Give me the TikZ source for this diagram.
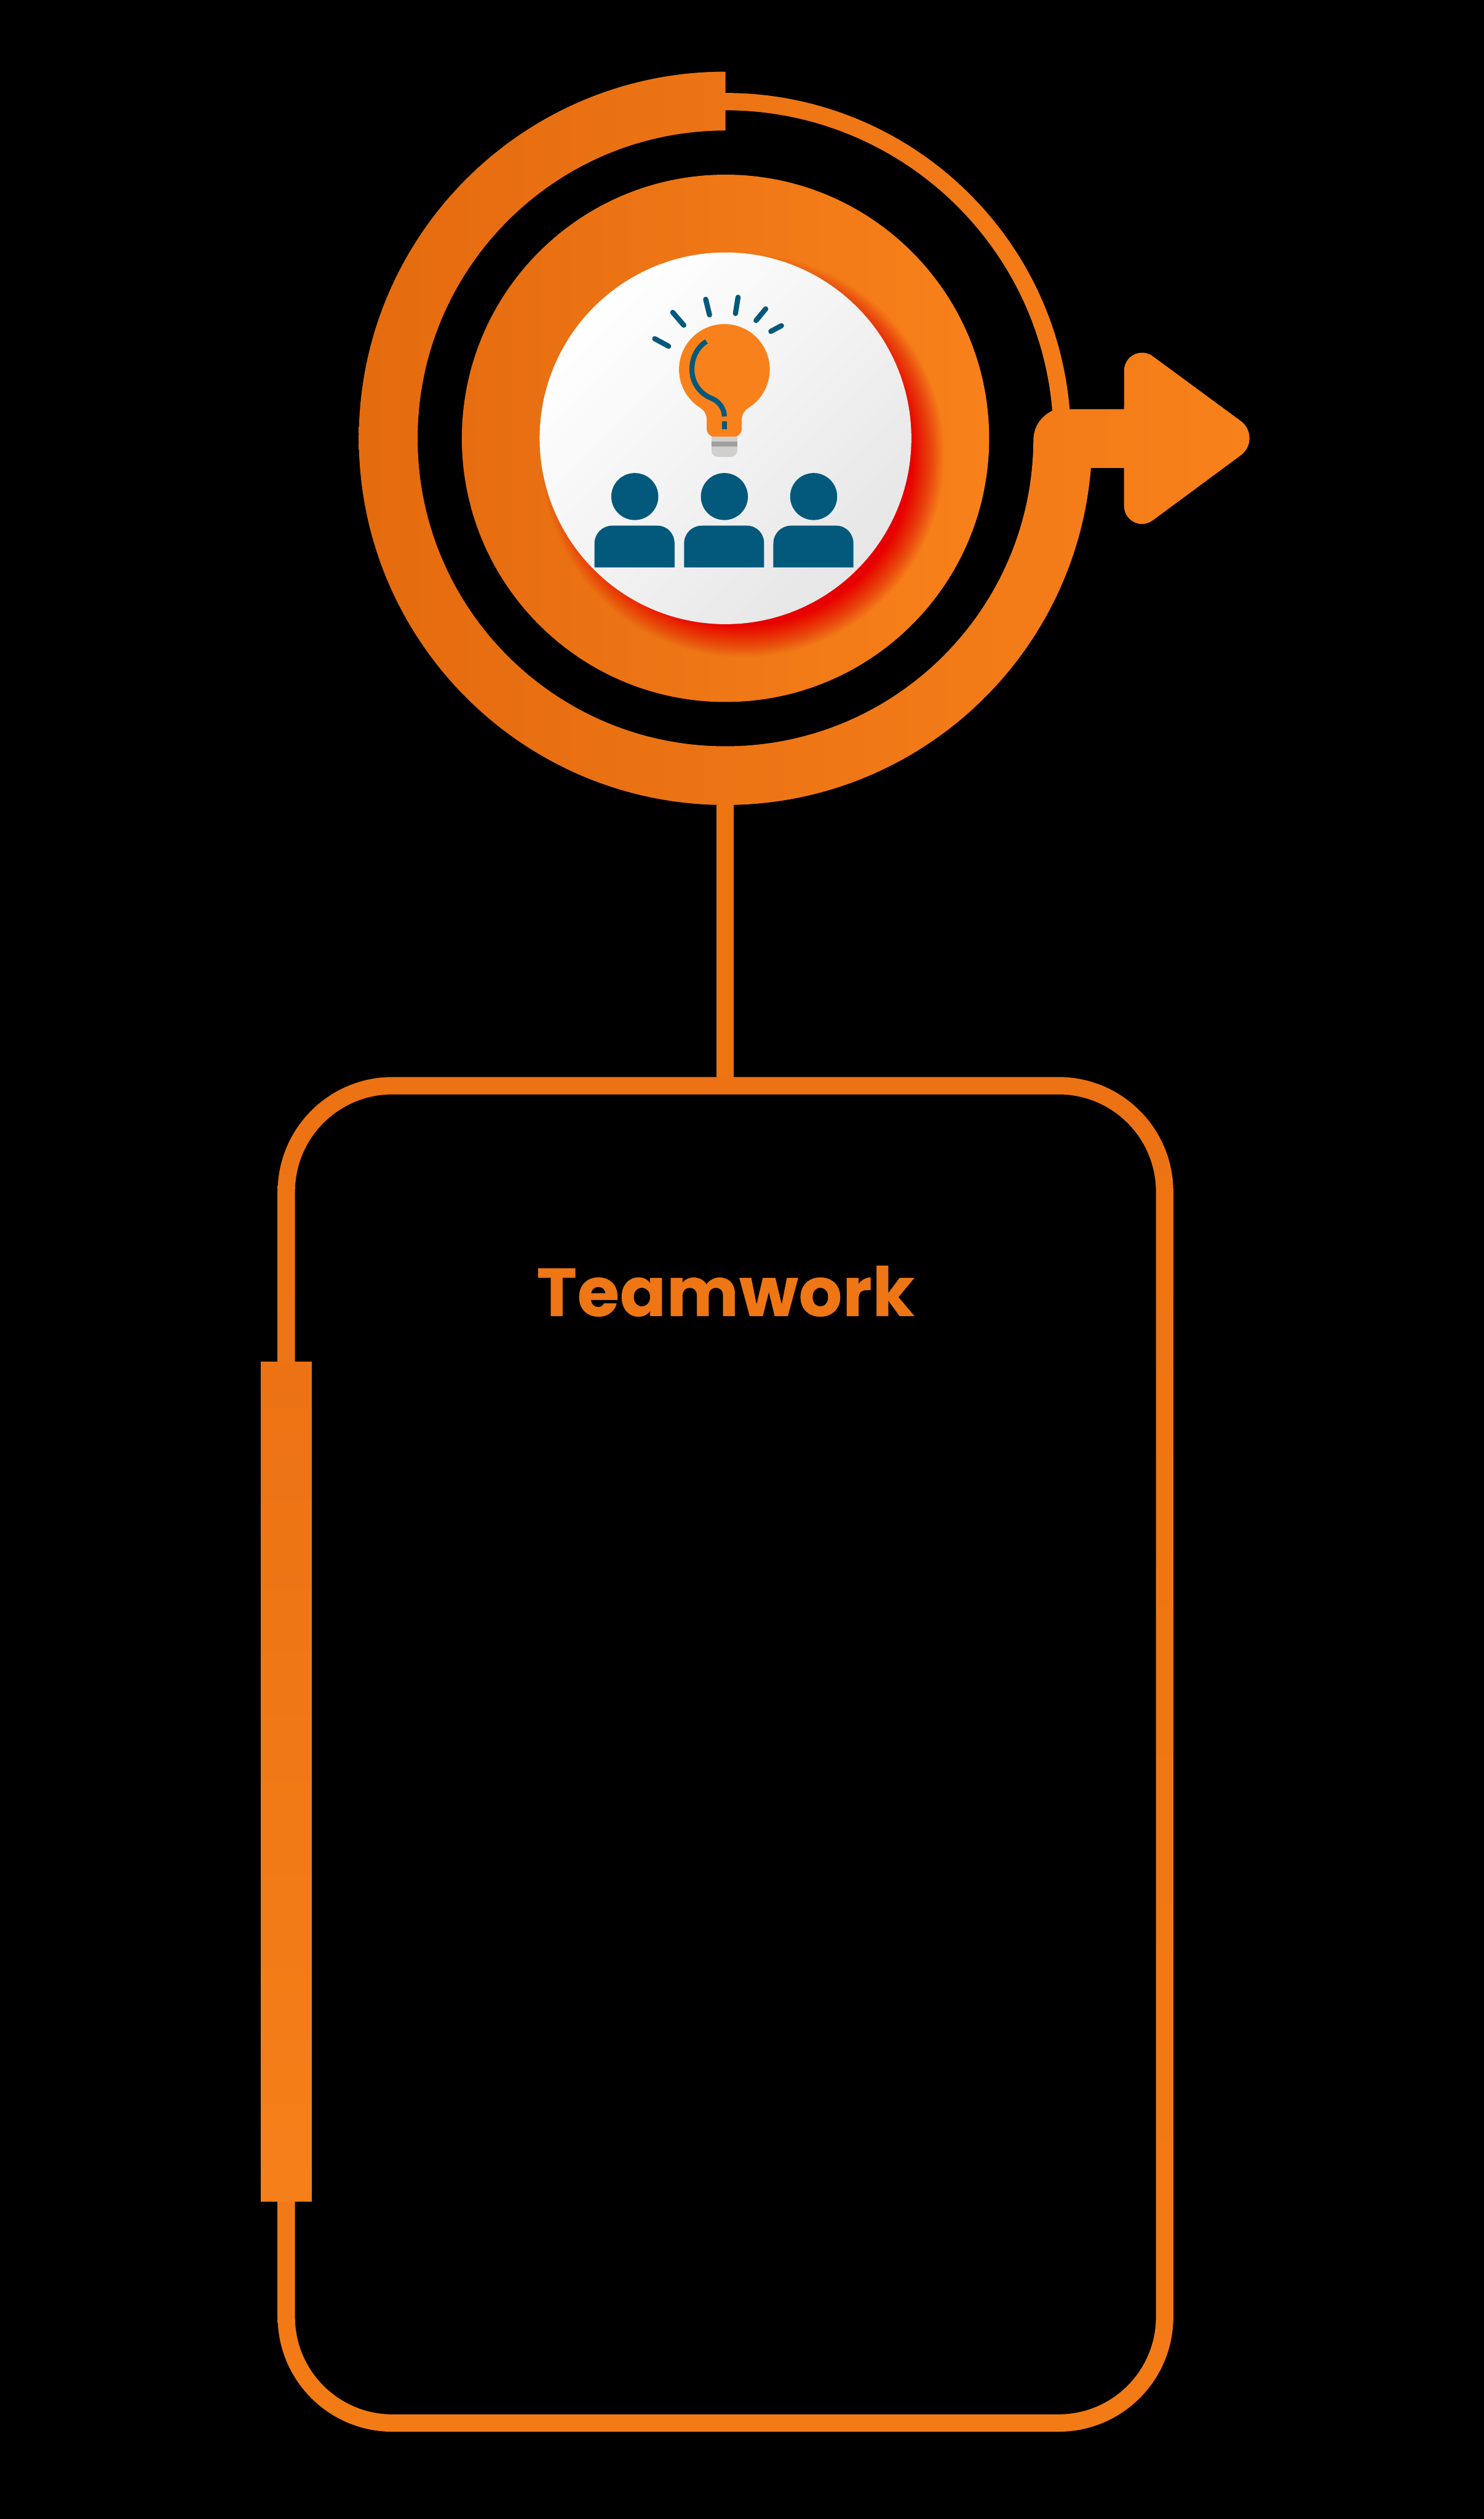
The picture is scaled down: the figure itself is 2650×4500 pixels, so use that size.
\documentclass[tikz,border=0pt]{standalone}
\usepackage{fontspec}
\newfontfamily\teamfont[BoldFeatures={LetterSpace=0.8,FakeBold=0.4}]{Poppins}
\definecolor{ringL}{HTML}{E56B0F}
\definecolor{ringR}{HTML}{F8811B}
\definecolor{frameT}{HTML}{EC7213}
\definecolor{frameB}{HTML}{F37B16}
\definecolor{barB}{HTML}{F57F19}
\definecolor{stemC}{HTML}{EE7412}
\definecolor{txtC}{HTML}{EF7614}
\definecolor{iconB}{HTML}{03597B}
\definecolor{bulbC}{HTML}{F9811C}
\definecolor{baseL}{HTML}{D0CFCE}
\definecolor{baseD}{HTML}{A0A0A0}
\definecolor{shadowC}{HTML}{E80000}
\definecolor{diskW}{HTML}{E6E6E6}
\tikzset{
  ray/.style={draw=iconB,line width=2.3pt,line cap=round},
  fil/.style={draw=iconB,line width=2.25pt},
  person/.style={fill=iconB},
  stemline/.style={draw=stemC,line width=7.75pt},
  title/.style={text=txtC,inner sep=0pt,anchor=base}
}
\begin{document}
\begin{tikzpicture}[x=0.25pt,y=0.25pt]
\useasboundingbox (0,0) rectangle (2650,-4500);
\fill[black] (-20,20) rectangle (2670,-4520);
\coordinate (ctr) at (1296,-783);
\coordinate (ringbottom) at (1295.5,-1430);
\coordinate (frametop) at (1295.5,-1930);
% connector
\draw[stemline] (ringbottom) -- (frametop);
% thin ring
\shade[left color=ringL!59!ringR,right color=ringL!20!ringR]
  (1296,-166) arc[start angle=90,end angle=4.8,radius=617]
  -- (1870,-745) -- (1880,-736)
  arc[start angle=4.6,end angle=90,radius=586] -- cycle;
% thick ring with arrow
\shade[left color=ringL,right color=ringR]
  (1296,-128) arc[start angle=90,end angle=355.36,radius=655]
  -- (2008,-836) -- (2008,-904)
  arc[start angle=180,end angle=307.2,radius=32]
  -- (2217,-813)
  arc[start angle=-52.8,end angle=52.8,radius=38]
  -- (2059.4,-636.5)
  arc[start angle=52.8,end angle=180,radius=32]
  -- (2008,-731) -- (1885,-731)
  .. controls (1860,-742) and (1846,-762) .. (1846,-787)
  arc[start angle=359.6,end angle=90,radius=550] -- cycle;
% inner disk
\shade[left color=ringL!90!ringR,right color=ringR] (ctr) circle[radius=471];
% blurred red shadow: stacked layers giving a linear alpha ramp
\foreach \k in {1,...,30}{
  \pgfmathsetmacro{\al}{1/(31-\k)}
  \pgfmathsetmacro{\rr}{362-2*\k}
  \fill[shadowC,opacity=\al] (1296+31,-783-31) circle[radius=\rr];
}
% white disk
\shade[top color=white,middle color=white!97!diskW,bottom color=diskW,shading angle=45] (ctr) circle[radius=332];
% bulb rays
\draw[ray] (1169.5,-605) -- (1194.4,-618.5);
\draw[ray] (1201.7,-558) -- (1221.6,-581);
\draw[ray] (1260.6,-534.6) -- (1267.5,-562.5);
\draw[ray] (1318.4,-531) -- (1313.8,-560);
\draw[ray] (1367.8,-551.8) -- (1350.6,-572.5);
\draw[ray] (1396,-581.8) -- (1377,-592);
% bulb base
\fill[baseL] (1271,-775) -- (1317,-775) -- (1317,-805)
  .. controls (1317,-811) and (1312,-816) .. (1306,-816) -- (1282,-816)
  .. controls (1276,-816) and (1271,-811) .. (1271,-805) -- cycle;
\fill[baseD] (1271,-788.5) rectangle (1317,-797.5);
% bulb glass
\fill[bulbC] (1337.3,-728.4) arc[start angle=-57.7,end angle=237.7,radius=81]
  .. controls (1257,-732) and (1262.5,-740) .. (1262.5,-750) -- (1262.5,-766)
  .. controls (1262.5,-774) and (1268,-780) .. (1276,-780) -- (1312,-780)
  .. controls (1319,-780) and (1325,-774) .. (1325,-766) -- (1325,-750)
  .. controls (1325,-740) and (1331,-732) .. cycle;
% filament
\draw[fil] (1262,-610) .. controls (1245,-620) and (1236,-640) .. (1236,-660)
  .. controls (1236,-685) and (1252,-704) .. (1270,-711)
  .. controls (1285,-717) and (1294,-730) .. (1294,-744);
\draw[fil] (1294,-753) -- (1294,-767);
% people
\foreach \cx in {1134,1294,1453.5}{
  \fill[person] (\cx,-887) circle[radius=42];
  \fill[person] (\cx-72,-1013.5) -- (\cx-72,-971)
     .. controls (\cx-72,-953) and (\cx-58,-939) .. (\cx-40,-939)
     -- (\cx+40,-939)
     .. controls (\cx+58,-939) and (\cx+71,-953) .. (\cx+71,-971)
     -- (\cx+71,-1013.5) -- cycle;
}
% frame
\shade[top color=frameT,bottom color=frameB,even odd rule]
  [rounded corners=51.25pt] (496,-1924) rectangle (2096,-4344)
  [rounded corners=43.5pt] (527,-1955) rectangle (2065,-4313);
% bar
\shade[top color=frameT,bottom color=barB] (466,-2433) rectangle (557,-3932);
% title
\node[title] (teamwork) at (1296,-2351) {\teamfont\fontsize{30.4pt}{36pt}\selectfont\bfseries Teamwork};
\end{tikzpicture}
\end{document}
